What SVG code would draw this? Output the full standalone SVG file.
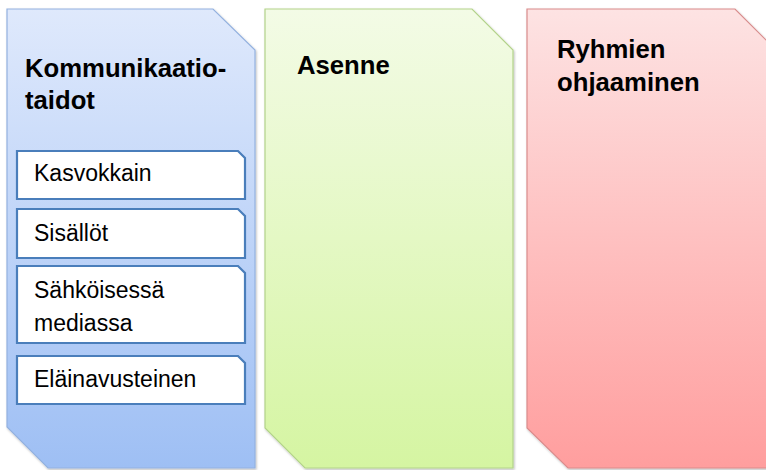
<svg xmlns="http://www.w3.org/2000/svg" width="766" height="470" viewBox="0 0 766 470">
<defs>
<linearGradient id="gBlue" x1="0" y1="0" x2="0" y2="1">
<stop offset="0" stop-color="#dfe9fc"/><stop offset="1" stop-color="#9ebff4"/>
</linearGradient>
<linearGradient id="gGreen" x1="0" y1="0" x2="0" y2="1">
<stop offset="0" stop-color="#f3fbe6"/><stop offset="1" stop-color="#d5f5a2"/>
</linearGradient>
<linearGradient id="gRed" x1="0" y1="0" x2="0" y2="1">
<stop offset="0" stop-color="#fde3e3"/><stop offset="1" stop-color="#ff9e9e"/>
</linearGradient>
<filter id="sh" x="-5%" y="-5%" width="110%" height="110%">
<feDropShadow dx="1" dy="1.5" stdDeviation="1.2" flood-color="#000" flood-opacity="0.25"/>
</filter>
</defs>
<style>
.title{font-family:"Liberation Sans",Arial,sans-serif;font-weight:bold;font-size:25.7px;fill:#000}
.item{font-family:"Liberation Sans",Arial,sans-serif;font-size:23px;fill:#000}
.box{fill:#fff;stroke:#4a7ebb;stroke-width:2.2}
.outer{stroke-width:1.2;filter:url(#sh)}
</style>
<rect width="766" height="470" fill="#fff"/>
<g id="node-kommunikaatiotaidot">
<path class="outer" d="M7,9 H213 L255,50 V468 H48 L7,427 Z" fill="url(#gBlue)" stroke="#93b1df"/>
<text class="title" x="25" y="77">Kommunikaatio-</text>
<text class="title" x="25" y="109">taidot</text>
</g>
<g id="node-kasvokkain">
<path class="box" d="M17,151 H238 L245,158 V199 H17 Z"/>
<text class="item" x="34" y="181">Kasvokkain</text>
</g>
<g id="node-sisallot">
<path class="box" d="M17,209 H238 L245,216 V258 H17 Z"/>
<text class="item" x="34" y="241">Sisällöt</text>
</g>
<g id="node-sahkoisessa">
<path class="box" d="M17,266 H238 L245,273 V343 H17 Z"/>
<text class="item" x="34" y="298">Sähköisessä</text>
<text class="item" x="34" y="331">mediassa</text>
</g>
<g id="node-elainavusteinen">
<path class="box" d="M17,356 H238 L245,363 V404 H17 Z"/>
<text class="item" x="34" y="387">Eläinavusteinen</text>
</g>
<g id="node-asenne">
<path class="outer" d="M265,9 H472 L513,50 V468 H305 L265,428 Z" fill="url(#gGreen)" stroke="#b3d38a"/>
<text class="title" x="297" y="74">Asenne</text>
</g>
<g id="node-ryhmien-ohjaaminen">
<path class="outer" d="M527,9 H735 L776,50 V468 H568 L527,428 Z" fill="url(#gRed)" stroke="#d98c8c"/>
<text class="title" x="557" y="58">Ryhmien</text>
<text class="title" x="557" y="91">ohjaaminen</text>
</g>
<g id="connectors"/>
</svg>
